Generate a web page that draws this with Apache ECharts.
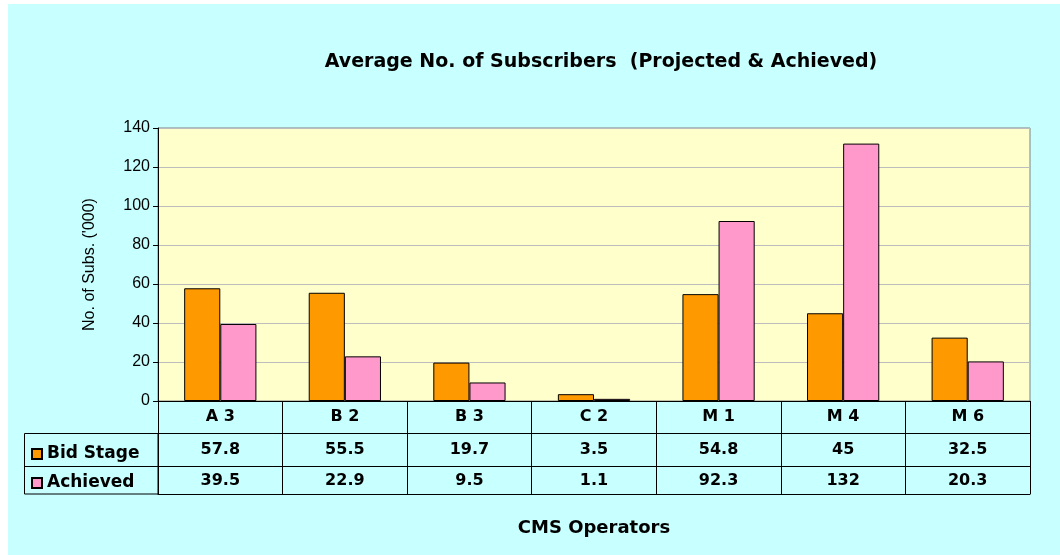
<!DOCTYPE html>
<html>
<head>
<meta charset="utf-8">
</head>
<body style="margin:0;background:#fff">
<div id="container" style="width:1060px;height:555px"></div>
<script src="https://cdn.jsdelivr.net/npm/echarts@6/dist/echarts.min.js"></script>
<script>
// chart values
var categories = ['A 3', 'B 2', 'B 3', 'C 2', 'M 1', 'M 4', 'M 6'];
var bidStage = [57.8, 55.5, 19.7, 3.5, 54.8, 45, 32.5];
var achieved = [39.5, 22.9, 9.5, 1.1, 92.3, 132, 20.3];
var yTicks = [0, 140, 20]; // min, max, step

var orange = '#FF9900';
var pink = '#FF99CC';
var font = 'DejaVu Sans';
var plain = 'Liberation Sans';

var chart = echarts.init(document.getElementById('container'), null, { renderer: 'canvas' });

function rowAxis(data, offset, margin, showLabel) {
    return {
        type: 'category',
        gridIndex: 0,
        position: 'bottom',
        offset: offset,
        data: data,
        axisLine: { show: true, lineStyle: { color: '#000', width: 1 } },
        axisTick: { show: false },
        splitLine: { show: false },
        axisLabel: {
            show: showLabel,
            interval: 0,
            margin: margin,
            color: '#000',
            fontFamily: font,
            fontWeight: 'bold',
            fontSize: 16
        }
    };
}

var option = {
    animation: false,
    backgroundColor: '#fff',
    graphic: [
        { type: 'rect', z: -10, shape: { x: 8, y: 4, width: 1052, height: 551 }, style: { fill: '#C8FFFF' } },
        { type: 'rect', z: 10, shape: { x: 24.5, y: 433.5, width: 133.5, height: 60.5 }, style: { fill: 'none', stroke: '#000', lineWidth: 1 } },
        { type: 'line', z: 10, shape: { x1: 24.5, y1: 466.5, x2: 158, y2: 466.5 }, style: { stroke: '#000', lineWidth: 1 } }
    ],
    title: {
        text: 'Average No. of Subscribers  (Projected & Achieved)',
        left: 596,
        top: 48,
        textAlign: 'center',
        textStyle: { fontFamily: font, fontWeight: 'bold', fontSize: 19, color: '#000' }
    },
    legend: {
        orient: 'vertical',
        left: 26,
        top: 440,
        itemGap: 11,
        itemWidth: 10,
        itemHeight: 10,
        itemTextGap: 7,
        icon: 'rect',
        data: ['Bid Stage', 'Achieved'],
        textStyle: { fontFamily: font, fontWeight: 'bold', fontSize: 17, color: '#000', lineHeight: 18 }
    },
    grid: {
        left: 158,
        right: 30,
        top: 128,
        bottom: 154,
        show: true,
        backgroundColor: '#FFFFCC',
        borderColor: '#808080',
        borderWidth: 1
    },
    xAxis: [
        {
            type: 'category',
            data: categories,
            position: 'bottom',
            axisLine: { lineStyle: { color: '#000', width: 1 } },
            axisTick: { show: true, length: 93, lineStyle: { color: '#000', width: 1 } },
            axisLabel: { interval: 0, margin: 8, color: '#000', fontFamily: font, fontWeight: 'bold', fontSize: 16 },
            splitLine: { show: false }
        },
        rowAxis(bidStage.map(String), 32, 9, true),
        rowAxis(achieved.map(String), 65, 7, true),
        Object.assign(rowAxis(categories, 93, 8, false), {
            name: 'CMS Operators',
            nameLocation: 'middle',
            nameGap: 25,
            nameTextStyle: { fontFamily: font, fontWeight: 'bold', fontSize: 18, color: '#000' }
        })
    ],
    yAxis: {
        type: 'value',
        min: yTicks[0],
        max: yTicks[1],
        interval: yTicks[2],
        name: "No. of Subs. ('000)",
        nameLocation: 'middle',
        nameGap: 60,
        nameTextStyle: { fontFamily: plain, fontSize: 16, color: '#000' },
        axisLine: { show: true, lineStyle: { color: '#000', width: 1 } },
        axisTick: { show: true, length: 5, lineStyle: { color: '#000' } },
        axisLabel: { margin: 8, color: '#000', fontFamily: plain, fontSize: 16 },
        splitLine: { show: true, lineStyle: { color: '#BDBDBD', width: 1 } }
    },
    series: [
        {
            name: 'Bid Stage',
            type: 'bar',
            data: bidStage,
            barGap: '0%',
            barCategoryGap: '42%',
            itemStyle: { color: orange, borderColor: '#000', borderWidth: 1 }
        },
        {
            name: 'Achieved',
            type: 'bar',
            data: achieved,
            itemStyle: { color: pink, borderColor: '#000', borderWidth: 1 }
        }
    ]
};

chart.setOption(option);
</script>
</body>
</html>
